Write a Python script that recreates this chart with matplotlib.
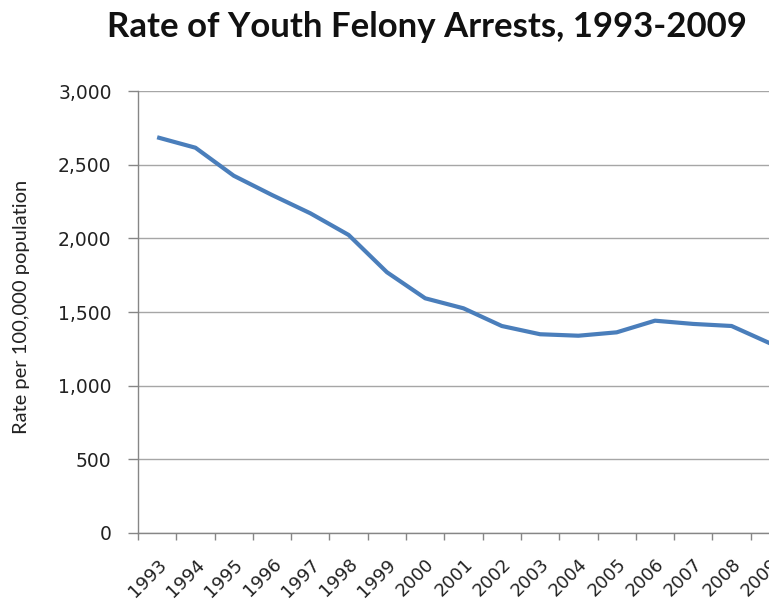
import matplotlib
matplotlib.use("Agg")
import matplotlib.pyplot as plt
import matplotlib.transforms as mtransforms
from matplotlib.ticker import FuncFormatter

years = ['1993', '1994', '1995', '1996', '1997', '1998', '1999', '2000', '2001',
         '2002', '2003', '2004', '2005', '2006', '2007', '2008', '2009']
rates = [2686, 2615, 2425, 2294, 2170, 2023, 1770, 1593, 1525,
         1405, 1349, 1339, 1362, 1441, 1419, 1405, 1288]

fig = plt.figure(figsize=(7.69, 6.01), dpi=100)
# axis runs past the right edge of the picture, as in the reference
ax = fig.add_axes([138 / 769, 1 - 533 / 601, 651 / 769, 442 / 601])

x = range(len(years))
ax.plot(x, rates, color='#4A7EBB', linewidth=3, solid_capstyle='butt', zorder=3)

ax.set_xlim(-0.5, len(years) - 0.5)
ax.set_ylim(0, 3000)
ax.set_yticks(range(0, 3001, 500))
ax.yaxis.set_major_formatter(FuncFormatter(lambda v, p: f'{int(v):,}'))
ax.grid(True, axis='y', color='#A6A6A6', linewidth=1)
ax.set_axisbelow(True)

# category boundary tick marks, labels at centres
ax.set_xticks([i - 0.5 for i in x], minor=True)
ax.set_xticks(list(x))
ax.set_xticklabels(years, rotation=45, ha='right', rotation_mode='anchor',
                   fontsize=13, color='#222222')
shift = mtransforms.ScaledTranslation(4 / 100, 0, fig.dpi_scale_trans)
for lbl in ax.get_xticklabels():
    lbl.set_transform(lbl.get_transform() + shift)
ax.tick_params(axis='x', which='major', length=0, pad=16)
ax.tick_params(axis='x', which='minor', length=5, color='#868686', width=1)
ax.tick_params(axis='y', length=7, color='#868686', width=1, pad=12,
               labelsize=13.5, labelcolor='#222222')

for side in ['top', 'right']:
    ax.spines[side].set_visible(False)
for side in ['left', 'bottom']:
    ax.spines[side].set_color('#868686')
    ax.spines[side].set_linewidth(1)

fig.text(22 / 769, 1 - 307 / 601, 'Rate per 100,000 population', rotation=90,
         ha='center', va='center', fontsize=14.5, family='Lato', color='#222222')
fig.text(427 / 769, 1 - 27 / 601, 'Rate of Youth Felony Arrests, 1993-2009',
         ha='center', va='center', fontsize=25, family='Lato', weight='bold',
         color='#111111')

fig.savefig('out.png', dpi=100)
